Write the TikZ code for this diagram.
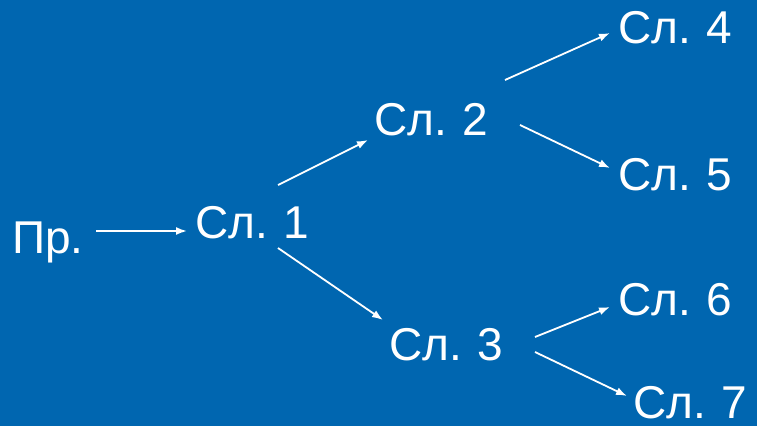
\documentclass[tikz,border=0pt]{standalone}
\usepackage{fontspec}
\setmainfont{Liberation Sans}
\usetikzlibrary{arrows.meta,calc}
\definecolor{bg}{RGB}{0,102,176}
\begin{document}
\begin{tikzpicture}[x=1pt,y=-1pt,
  lbl/.style={text=white,font=\fontsize{46}{50}\selectfont,inner sep=0pt,anchor=base west},
  arr/.style={draw=white,line width=1.8pt,-{Latex[length=11pt,width=8pt]}}]
\fill[bg] (0,0) rectangle (757,426);
\useasboundingbox (0,0) rectangle (757,426);
\node[lbl] (pr) at (12,253) {Пр.};
\node[lbl] (s1) at (195,238) {Сл.\hspace{-2pt} 1};
\node[lbl] (s2) at (374,135) {Сл.\hspace{-2pt} 2};
\node[lbl] (s3) at (389,360) {Сл.\hspace{-2pt} 3};
\node[lbl] (s4) at (618,43) {Сл.\hspace{-2pt} 4};
\node[lbl] (s5) at (618,190) {Сл.\hspace{-2pt} 5};
\node[lbl] (s6) at (618,315) {Сл.\hspace{-2pt} 6};
\node[lbl,text depth=0pt] (s7) at (633,418) {Сл.\hspace{-2pt} 7};
\draw[arr] ($(pr.base west)+(84,-22)$) -- ($(s1.base west)+(-8,-7)$);
\draw[arr] ($(s1.base west)+(83,-53)$) -- ($(s2.base west)+(-6,5)$);
\draw[arr] ($(s1.base west)+(83,10)$) -- ($(s3.base west)+(-6,-40)$);
\draw[arr] ($(s2.base west)+(131,-55)$) -- ($(s4.base west)+(-8,-10)$);
\draw[arr] ($(s2.base west)+(146,-10)$) -- ($(s5.base west)+(-8,-22)$);
\draw[arr] ($(s3.base west)+(146,-23)$) -- ($(s6.base west)+(-8,-8)$);
\draw[arr] ($(s3.base west)+(146,-8)$) -- ($(s7.base west)+(-6,-22)$);
\end{tikzpicture}
\end{document}
